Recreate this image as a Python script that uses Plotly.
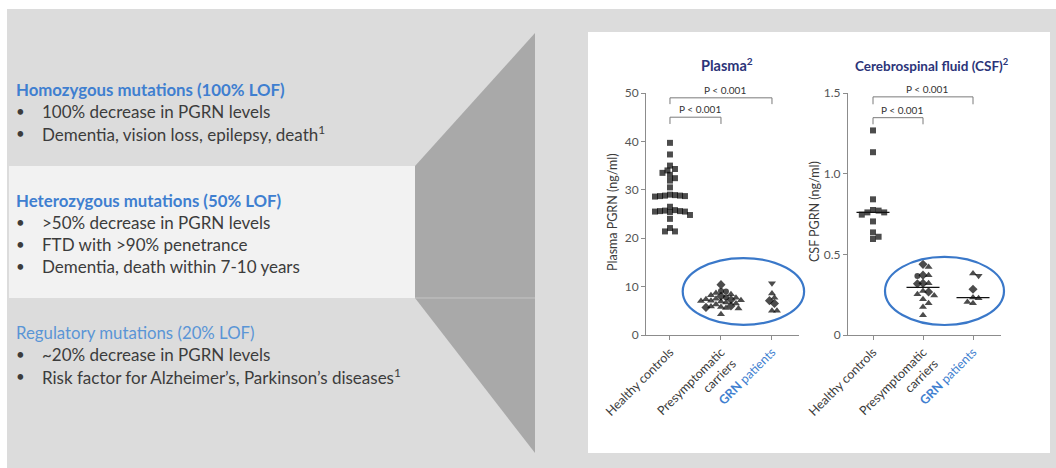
import plotly.graph_objects as go
import numpy as np

W, H = 1056, 468

# ---------------- data ----------------
categories = ["Healthy controls", "Presymptomatic carriers", "GRN patients"]
tick_text = ["Healthy controls", "Presymptomatic<br>carriers",
             "<span style='color:#3f7fd0'><b>GRN</b> patients</span>"]

plasma_healthy = [39.7, 37.3, 35.0, 34.3, 34.0, 33.5, 33.1, 32.4, 31.9, 30.5,
                  29.0, 28.9, 28.8, 28.8, 28.7, 28.7, 28.6,
                  26.5,
                  25.8, 25.7, 25.6, 25.6, 25.5, 25.5, 25.4,
                  24.8, 24.0, 22.1, 21.4, 21.4]
plasma_presym = [10.4, 9.1, 9.0, 8.7, 8.4, 8.2, 8.0, 7.8, 7.7, 7.5, 7.4, 7.3, 7.2,
                 7.1, 7.0, 6.9, 6.7, 6.5, 6.3, 6.0, 5.9, 5.8, 5.7, 5.6, 5.5, 4.3]
plasma_presym_kind = ["D", "C", "C", "T", "T", "T", "D", "C", "T", "T", "T", "D", "T",
                      "T", "T", "T", "T", "T", "T", "D", "T", "T", "D", "T", "T", "T"]
plasma_grn = [10.7, 8.6, 7.7, 7.1, 6.5, 5.0, 5.0]
plasma_grn_kind = ["V", "T", "T", "D", "D", "T", "T"]

csf_healthy = [1.268, 1.133, 0.841, 0.775, 0.771, 0.760, 0.760, 0.746, 0.704, 0.636, 0.609, 0.595]
csf_presym = [0.438, 0.421, 0.371, 0.370, 0.366, 0.320, 0.320, 0.318, 0.273, 0.267,
              0.252, 0.245, 0.221, 0.197, 0.174, 0.122]
csf_presym_kind = ["D", "T", "D", "T", "C", "D", "T", "D", "T", "D",
                   "T", "T", "T", "T", "T", "T"]
csf_grn = [0.381, 0.367, 0.284, 0.232, 0.228, 0.205, 0.197]
csf_grn_kind = ["T", "V", "D", "T", "T", "T", "T"]

plasma_yticks = [0, 10, 20, 30, 40, 50]
csf_yticks = [0, 0.5, 1.0, 1.5]
csf_ytick_text = ["0", "0.5", "1.0", "1.5"]
p_label = "P < 0.001"

# ---------------- styling / layout helpers ----------------
def px(x):
    return x / W

def py(y):
    return 1 - y / H

SYMBOL = {"S": "square", "T": "triangle-up", "V": "triangle-down", "D": "diamond", "C": "circle"}
SIZE = {"S": 6, "T": 7, "V": 7, "D": 7, "C": 6}
BLUE = "#3f7fd0"
NAVY = "#2b3479"
AXC = "#8c8c8c"
TXT = "#3c3c3c"
FONT = "Lato"

panels = {
    "plasma": dict(xdom=[px(646), px(799)], ydom=[py(335), py(93)], xr=[-0.47, 2.53], yr=[0, 50], d=5.0,
                   median=False),
    "csf": dict(xdom=[px(848), px(1001)], ydom=[py(335), py(93)], xr=[-0.5, 2.56], yr=[0, 1.5], d=5.6,
                median=True),
}


def swarm(values, center, xr, yr, xdom, ydom, d):
    xs_px = (xdom[1] - xdom[0]) * W / (xr[1] - xr[0])
    ys_px = (ydom[1] - ydom[0]) * H / (yr[1] - yr[0])
    order = sorted(range(len(values)), key=lambda i: -values[i])
    cands = [0.0]
    for j in range(1, 30):
        cands += [j * d / 2, -j * d / 2]
    placed = []
    out = [0.0] * len(values)
    for i in order:
        yv = values[i] * ys_px
        for c in cands:
            if all((c - px_) ** 2 + (yv - py_) ** 2 >= d * d for px_, py_ in placed):
                placed.append((c, yv))
                out[i] = center + c / xs_px
                break
    return out


fig = go.Figure()

groups = {
    "plasma": [(plasma_healthy, ["S"] * len(plasma_healthy)),
               (plasma_presym, plasma_presym_kind),
               (plasma_grn, plasma_grn_kind)],
    "csf": [(csf_healthy, ["S"] * len(csf_healthy)),
            (csf_presym, csf_presym_kind),
            (csf_grn, csf_grn_kind)],
}

axis_ids = {"plasma": ("x", "y"), "csf": ("x2", "y2")}

for key, grp in groups.items():
    p = panels[key]
    xa, ya = axis_ids[key]
    for gi, (vals, kinds) in enumerate(grp):
        xs = swarm(vals, gi, p["xr"], p["yr"], p["xdom"], p["ydom"], p["d"])
        fig.add_trace(go.Scatter(
            x=xs, y=vals, mode="markers", xaxis=xa, yaxis=ya,
            marker=dict(symbol=[SYMBOL[k] for k in kinds], size=[SIZE[k] for k in kinds],
                        color="#000000", line=dict(width=0)),
            showlegend=False, hoverinfo="y", cliponaxis=False))
        if p["median"]:
            med = float(np.median(vals))
            fig.add_trace(go.Scatter(
                x=[gi - 0.33, gi + 0.33], y=[med, med], mode="lines", xaxis=xa, yaxis=ya,
                line=dict(color="#111111", width=1.3), showlegend=False, hoverinfo="skip"))

shapes = []
annotations = []

# backgrounds
shapes.append(dict(type="rect", xref="paper", yref="paper", x0=px(7), x1=px(1056), y0=py(9), y1=py(468),
                   fillcolor="#dcdcdc", line=dict(width=0), layer="below"))
shapes.append(dict(type="rect", xref="paper", yref="paper", x0=px(9), x1=px(415), y0=py(166), y1=py(298),
                   fillcolor="#f2f2f2", line=dict(width=0), layer="below"))
shapes.append(dict(type="path", xref="paper", yref="paper",
                   path=f"M {px(535)},{py(33)} L {px(415)},{py(166)} L {px(415)},{py(298)} L {px(535)},{py(453)} Z",
                   fillcolor="#a9a9a9", line=dict(width=0), layer="below"))
shapes.append(dict(type="line", xref="paper", yref="paper", x0=px(415), x1=px(535), y0=py(298), y1=py(298),
                   line=dict(color="#c4c4c4", width=1), layer="below"))
shapes.append(dict(type="rect", xref="paper", yref="paper", x0=px(588), x1=px(1050), y0=py(32), y1=py(453),
                   fillcolor="#ffffff", line=dict(width=0), layer="below"))

# left text
blocks = [
    ("<b>Homozygous mutations (100% LOF)</b>", BLUE, 89,
     ["100% decrease in PGRN levels", "Dementia, vision loss, epilepsy, death<sup>1</sup>"]),
    ("<b>Heterozygous mutations (50% LOF)</b>", BLUE, 200,
     [">50% decrease in PGRN levels", "FTD with >90% penetrance", "Dementia, death within 7-10 years"]),
    ("Regulatory mutations (20% LOF)", "#5a95d6", 332,
     ["~20% decrease in PGRN levels", "Risk factor for Alzheimer’s, Parkinson’s diseases<sup>1</sup>"]),
]
for head, col, y0, bullets in blocks:
    annotations.append(dict(xref="paper", yref="paper", x=px(14), y=py(y0), text=head, showarrow=False,
                            xanchor="left", yanchor="middle", font=dict(family=FONT, size=16.8, color=col)))
    for k, b in enumerate(bullets):
        yy = y0 + 22 * (k + 1)
        annotations.append(dict(xref="paper", yref="paper", x=px(14), y=py(yy), text="•", showarrow=False,
                                xanchor="left", yanchor="middle", font=dict(family=FONT, size=15, color=TXT)))
        annotations.append(dict(xref="paper", yref="paper", x=px(40), y=py(yy), text=b, showarrow=False,
                                xanchor="left", yanchor="middle", font=dict(family=FONT, size=17, color=TXT)))

# chart titles
annotations.append(dict(xref="paper", yref="paper", x=px(727), y=py(65), text="<b>Plasma<sup>2</sup></b>",
                        xanchor="center", yanchor="middle",
                        showarrow=False, font=dict(family=FONT, size=14.5, color=NAVY)))
annotations.append(dict(xref="paper", yref="paper", x=px(932), y=py(65),
                        text="<b>Cerebrospinal fluid (CSF)<sup>2</sup></b>",
                        xanchor="center", yanchor="middle",
                        showarrow=False, font=dict(family=FONT, size=13.5, color=NAVY)))
# y titles
annotations.append(dict(xref="paper", yref="paper", x=px(613), y=py(212), text="Plasma PGRN (ng/ml)",
                        xanchor="center", yanchor="middle",
                        textangle=-90, showarrow=False, font=dict(family=FONT, size=12.5, color=TXT)))
annotations.append(dict(xref="paper", yref="paper", x=px(815), y=py(212), text="CSF PGRN (ng/ml)",
                        xanchor="center", yanchor="middle",
                        textangle=-90, showarrow=False, font=dict(family=FONT, size=12.5, color=TXT)))

# significance brackets
brackets = {
    "plasma": [(0, 2, 49.0, 47.7), (0, 1, 45.0, 43.6)],
    "csf": [(0, 2, 1.476, 1.43), (0, 1, 1.347, 1.306)],
}
for key, brs in brackets.items():
    xa, ya = axis_ids[key]
    for (a, b, ytop, yleg) in brs:
        shapes.append(dict(type="path", xref=xa, yref=ya,
                           path=f"M {a},{yleg} L {a},{ytop} L {b},{ytop} L {b},{yleg}",
                           line=dict(color="#7a7a7a", width=1)))
        annotations.append(dict(xref=xa, yref=ya, x=(a + b) / 2 + 0.08, y=ytop, text=p_label, showarrow=False,
                                xanchor="center", yanchor="bottom", yshift=0,
                                font=dict(family=FONT, size=10, color="#333333")))

# ellipses (domain refs so they are not clipped)
ellipses = {"plasma": (0.25, 2.63, 2.1, 15.9), "csf": (0.24, 2.62, 0.062, 0.484)}
for key, (x0, x1, y0, y1) in ellipses.items():
    p = panels[key]
    xa, ya = axis_ids[key]
    fx = lambda v: (v - p["xr"][0]) / (p["xr"][1] - p["xr"][0])
    fy = lambda v: (v - p["yr"][0]) / (p["yr"][1] - p["yr"][0])
    shapes.append(dict(type="circle", xref=f"{xa} domain", yref=f"{ya} domain",
                       x0=fx(x0), x1=fx(x1), y0=fy(y0), y1=fy(y1),
                       line=dict(color="#3a78c9", width=2.2)))

common_x = dict(tickvals=[0, 1, 2], ticktext=tick_text, tickangle=-45, ticks="outside", ticklen=4,
                tickcolor=AXC, showline=True, linecolor=AXC, linewidth=1, showgrid=False, zeroline=False,
                tickfont=dict(family=FONT, size=12.5, color=TXT), fixedrange=True, automargin=False)
common_y = dict(ticks="outside", ticklen=4, tickcolor=AXC, showline=True, linecolor=AXC, linewidth=1,
                showgrid=False, zeroline=False, tickfont=dict(family=FONT, size=12, color="#555555"),
                fixedrange=True, automargin=False)

fig.update_layout(
    width=W, height=H, autosize=False,
    margin=dict(l=0, r=0, t=0, b=0, pad=0, autoexpand=False),
    paper_bgcolor="#ffffff", plot_bgcolor="rgba(0,0,0,0)",
    xaxis=dict(domain=panels["plasma"]["xdom"], range=panels["plasma"]["xr"], anchor="y", **common_x),
    yaxis=dict(domain=panels["plasma"]["ydom"], range=panels["plasma"]["yr"], anchor="x",
               tickvals=plasma_yticks, **common_y),
    xaxis2=dict(domain=panels["csf"]["xdom"], range=panels["csf"]["xr"], anchor="y2", **common_x),
    yaxis2=dict(domain=panels["csf"]["ydom"], range=panels["csf"]["yr"], anchor="x2",
                tickvals=csf_yticks, ticktext=csf_ytick_text, **common_y),
    shapes=shapes, annotations=annotations, showlegend=False,
)

fig.write_html("out.html", config={"displayModeBar": False},
               post_script="document.body.style.margin='0';document.body.style.overflow='hidden';")
